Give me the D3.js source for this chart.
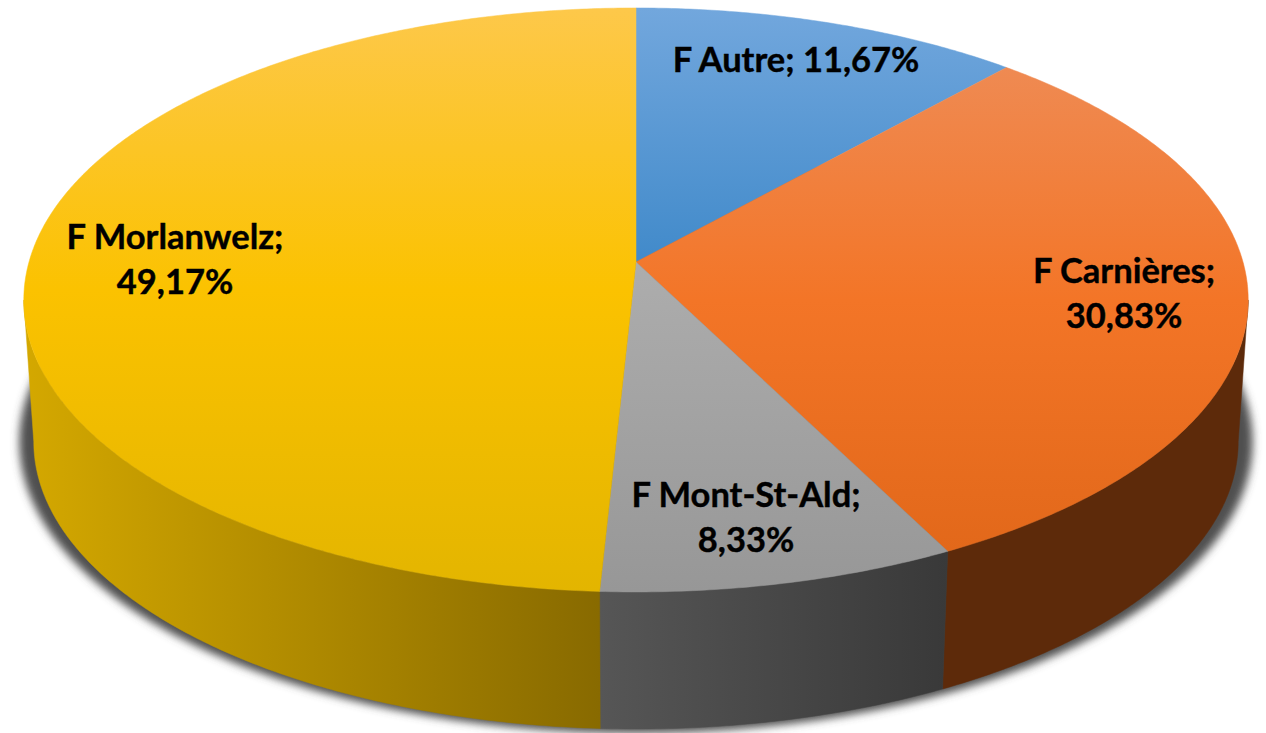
<!DOCTYPE html>
<html><head><meta charset="utf-8">
<script src="https://cdn.jsdelivr.net/npm/d3@7"></script>
<style>html,body{margin:0;padding:0;background:#fff;overflow:hidden}svg{display:block}</style>
</head><body><svg id="c" width="1266" height="733"></svg>
<script>
const categories = ["F Autre", "F Carnières", "F Mont-St-Ald", "F Morlanwelz"];
const values = [11.67, 30.83, 8.33, 49.17];
const topStops = [
  [[8,"#72a7dd"],[262,"#418aca"]],
  [[68,"#ef8a52"],[300,"#f37527"],[552,"#e2681a"]],
  [[262,"#adadad"],[592,"#979797"]],
  [[8,"#fdc84a"],[290,"#fbc200"],[592,"#e3b500"]]
];
const wallStops = [
  [[0,"#2f5f8f"],[1,"#2f5f8f"]],
  [[0,"#5d2a0a"],[1,"#5d2a0a"]],
  [[0,"#565656"],[1,"#393939"]],
  [[0,"#d4a800"],[1,"#886a00"]]
];
const labelLines = [1, 2, 2, 2];
const labelAnchors = [[796,72],[1124,283],[746,507],[175,249]];

const W = 1266, H = 733, CX = 636, K = 0.13;
const svg = d3.select("#c");
const defs = svg.append("defs");
const ux = d3.scaleLinear().domain([-1,1]).range([CX-607, CX+607]);
const vy = d3.scaleLinear().domain([-1,1]).range([515, 9]);
const VY = 9000, F = 0.9837;
const pt = a => {
  const u = Math.sin(a), v = Math.cos(a), d = 1 + K*v;
  return [CX + (ux(u)-CX)/d, vy(v)/d];
};
const pb = a => { const p = pt(a); return [CX+(p[0]-CX)*F, VY+(p[1]-VY)*F]; };
const line = d3.line();
const arcPts = (a0,a1,fn) => { const n = Math.max(2,Math.ceil((a1-a0)*120)); return d3.range(n+1).map(i => fn(a0+(a1-a0)*i/n)); };

const pie = d3.pie().sort(null).value(d => d)(values);

// shadow
const blur = defs.append("filter").attr("id","sh").attr("x","-10%").attr("y","-10%").attr("width","120%").attr("height","120%");
blur.append("feGaussianBlur").attr("stdDeviation",4.5);
const ring = arcPts(0,2*Math.PI,pb).map(p => [CX+(p[0]-CX)*1.024, 445+(p[1]-445)*1.014]);
svg.append("path").attr("d", line(ring)+"Z").attr("fill","#505050").attr("filter","url(#sh)");

function grad(id, attrs){
  const g = defs.append("linearGradient").attr("id",id).attr("gradientUnits","userSpaceOnUse");
  Object.entries(attrs).forEach(([k,v]) => g.attr(k,v));
  return g;
}
// the silhouette of the drum touches the rim where the rim is widest on screen
const vis0 = Math.acos(-K), vis1 = 2*Math.PI - vis0;

// walls
pie.forEach((s,i) => {
  const a0 = Math.max(s.startAngle,vis0), a1 = Math.min(s.endAngle,vis1);
  if(a1 <= a0) return;
  const topA = arcPts(a0,a1,pt), botA = arcPts(a0,a1,pb).reverse();
  const xs = topA.concat(botA).map(p=>p[0]);
  const g = grad("w"+i,{x1:d3.min(xs),x2:d3.max(xs),y1:0,y2:0});
  wallStops[i].forEach(st => g.append("stop").attr("offset",st[0]).attr("stop-color",st[1]));
  svg.append("path").attr("d", line(topA.concat(botA))+"Z").attr("fill","url(#w"+i+")")
    .attr("stroke","url(#w"+i+")").attr("stroke-width",0.5);
});

// top faces
const apex = [CX, 262];
pie.forEach((s,i) => {
  const stops = topStops[i], y0 = stops[0][0], y1 = stops[stops.length-1][0];
  const g = grad("t"+i,{x1:0,x2:0,y1:y0,y2:y1});
  stops.forEach(st => g.append("stop").attr("offset",(st[0]-y0)/(y1-y0)).attr("stop-color",st[1]));
  const pts = [apex].concat(arcPts(s.startAngle,s.endAngle,pt));
  svg.append("path").attr("d", line(pts)+"Z").attr("fill","url(#t"+i+")")
    .attr("stroke","url(#t"+i+")").attr("stroke-width",0.5);
});

// labels
const fmt = v => v.toFixed(2).replace(".",",")+"%";
const font = "Lato, 'Open Sans', sans-serif";
categories.forEach((c,i) => {
  const [x,y] = labelAnchors[i];
  const t = svg.append("text").attr("text-anchor","middle").attr("font-family",font)
    .attr("font-weight",700).attr("font-size",34.5).attr("fill","#000")
    .attr("stroke","#000").attr("stroke-width",0.4).attr("x",x).attr("y",y);
  if(labelLines[i]===1){ t.text(c+"; "+fmt(values[i])); }
  else {
    t.append("tspan").attr("x",x).text(c+";");
    t.append("tspan").attr("x",x).attr("y",y+45).text(fmt(values[i]));
  }
});
</script></body></html>
